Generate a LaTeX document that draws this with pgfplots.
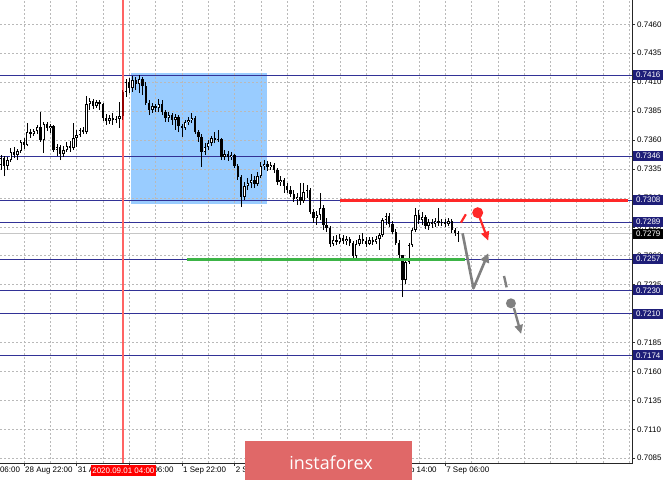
\documentclass[border=0pt]{standalone}
\usepackage{pgfplots}
\pgfplotsset{compat=1.18}
\usepackage{pgfplotstable}
\usepackage{fontspec}
\setmainfont{Liberation Sans}
\newfontfamily\bannerfont{Open Sans}
\usetikzlibrary{arrows.meta}

\definecolor{lvl}{RGB}{50,50,150}
\definecolor{lvlbox}{RGB}{30,30,120}
\definecolor{zone}{RGB}{153,204,255}
\definecolor{selred}{RGB}{255,100,100}
\definecolor{darkbar}{RGB}{150,0,0}
\definecolor{tgtred}{RGB}{255,40,40}
\definecolor{tgtgreen}{RGB}{60,180,70}
\definecolor{arrowgray}{RGB}{128,128,128}
\definecolor{banner}{RGB}{224,104,104}

% H1 bars, t = 0 is 28 Aug 22:00
\pgfplotstableread{
t o h l c
-7 0.73384 0.73471 0.73341 0.73445
-6 0.73445 0.73462 0.73289 0.73376
-5 0.73376 0.73453 0.73341 0.73427
-4 0.73427 0.73531 0.73410 0.73497
-3 0.73497 0.73540 0.73445 0.73471
-2 0.73471 0.73522 0.73427 0.73505
-1 0.73505 0.73600 0.73488 0.73583
0 0.73583 0.73618 0.73522 0.73557
1 0.73557 0.73747 0.73548 0.73669
2 0.73669 0.73695 0.73618 0.73652
3 0.73652 0.73695 0.73635 0.73678
4 0.73678 0.73730 0.73652 0.73713
5 0.73713 0.73842 0.73583 0.73600
6 0.73600 0.73756 0.73488 0.73739
7 0.73739 0.73756 0.73678 0.73704
8 0.73704 0.73739 0.73661 0.73721
9 0.73721 0.73730 0.73497 0.73514
10 0.73514 0.73566 0.73462 0.73540
11 0.73540 0.73557 0.73427 0.73479
12 0.73479 0.73548 0.73453 0.73514
13 0.73514 0.73583 0.73497 0.73548
14 0.73548 0.73592 0.73497 0.73531
15 0.73531 0.73747 0.73514 0.73618
16 0.73618 0.73687 0.73540 0.73643
17 0.73643 0.73704 0.73626 0.73687
18 0.73687 0.73713 0.73652 0.73669
19 0.73669 0.73981 0.73652 0.73911
20 0.73911 0.73963 0.73860 0.73937
21 0.73937 0.73955 0.73868 0.73894
22 0.73894 0.73946 0.73877 0.73929
23 0.73929 0.73946 0.73860 0.73911
24 0.73911 0.73920 0.73764 0.73790
25 0.73790 0.73825 0.73730 0.73764
26 0.73764 0.73816 0.73739 0.73790
27 0.73790 0.73834 0.73730 0.73773
28 0.73773 0.73808 0.73747 0.73782
29 0.73782 0.73929 0.73704 0.73808
30 0.73808 0.74032 0.73773 0.74015
31 0.74015 0.74127 0.73972 0.74101
32 0.74101 0.74136 0.74006 0.74050
33 0.74050 0.74153 0.74015 0.74119
34 0.74119 0.74145 0.74032 0.74084
35 0.74084 0.74162 0.74006 0.74127
36 0.74127 0.74145 0.73989 0.74067
37 0.74067 0.74101 0.73903 0.73920
38 0.73920 0.73946 0.73816 0.73860
39 0.73860 0.73920 0.73834 0.73894
40 0.73894 0.73911 0.73842 0.73877
41 0.73877 0.73955 0.73842 0.73911
42 0.73911 0.73946 0.73816 0.73842
43 0.73842 0.73860 0.73756 0.73790
44 0.73790 0.73842 0.73756 0.73816
45 0.73816 0.73834 0.73730 0.73773
46 0.73773 0.73825 0.73687 0.73799
47 0.73799 0.73816 0.73669 0.73721
48 0.73721 0.73739 0.73626 0.73704
49 0.73704 0.73773 0.73687 0.73756
50 0.73756 0.73799 0.73730 0.73773
51 0.73773 0.73834 0.73747 0.73790
52 0.73790 0.73808 0.73652 0.73669
53 0.73669 0.73687 0.73583 0.73626
54 0.73626 0.73652 0.73367 0.73497
55 0.73497 0.73574 0.73471 0.73540
56 0.73540 0.73600 0.73514 0.73574
57 0.73574 0.73635 0.73548 0.73618
58 0.73618 0.73669 0.73574 0.73600
59 0.73600 0.73687 0.73583 0.73609
60 0.73609 0.73618 0.73427 0.73453
61 0.73453 0.73514 0.73427 0.73479
62 0.73479 0.73505 0.73419 0.73453
63 0.73453 0.73497 0.73427 0.73471
64 0.73471 0.73479 0.73358 0.73376
65 0.73376 0.73393 0.73255 0.73281
66 0.73281 0.73298 0.73021 0.73108
67 0.73108 0.73237 0.73082 0.73203
68 0.73203 0.73272 0.73168 0.73229
69 0.73229 0.73306 0.73185 0.73255
70 0.73255 0.73289 0.73185 0.73220
71 0.73220 0.73324 0.73203 0.73289
72 0.73289 0.73410 0.73272 0.73376
73 0.73376 0.73427 0.73341 0.73393
74 0.73393 0.73419 0.73332 0.73367
75 0.73367 0.73410 0.73341 0.73384
76 0.73384 0.73402 0.73315 0.73341
77 0.73341 0.73358 0.73211 0.73237
78 0.73237 0.73289 0.73203 0.73255
79 0.73255 0.73272 0.73142 0.73203
80 0.73203 0.73229 0.73142 0.73168
81 0.73168 0.73203 0.73108 0.73134
82 0.73134 0.73168 0.73065 0.73090
83 0.73090 0.73142 0.73039 0.73108
84 0.73108 0.73229 0.73039 0.73073
85 0.73073 0.73229 0.73056 0.73151
86 0.73151 0.73211 0.73099 0.73168
87 0.73168 0.73185 0.72961 0.72978
88 0.72978 0.73004 0.72883 0.72926
89 0.72926 0.72987 0.72866 0.72952
90 0.72952 0.73142 0.72909 0.73013
91 0.73013 0.73039 0.72823 0.72866
92 0.72866 0.72926 0.72805 0.72840
93 0.72840 0.72857 0.72676 0.72702
94 0.72702 0.72771 0.72684 0.72736
95 0.72736 0.72779 0.72693 0.72719
96 0.72719 0.72788 0.72702 0.72753
97 0.72753 0.72779 0.72702 0.72728
98 0.72728 0.72771 0.72693 0.72745
99 0.72745 0.72762 0.72684 0.72710
100 0.72710 0.72728 0.72563 0.72598
101 0.72598 0.72736 0.72581 0.72702
102 0.72702 0.72779 0.72684 0.72745
103 0.72745 0.72797 0.72702 0.72728
104 0.72728 0.72762 0.72676 0.72702
105 0.72702 0.72762 0.72693 0.72736
106 0.72736 0.72762 0.72693 0.72719
107 0.72719 0.72771 0.72702 0.72745
108 0.72745 0.72797 0.72650 0.72779
109 0.72779 0.72926 0.72762 0.72909
110 0.72909 0.72969 0.72866 0.72944
111 0.72944 0.72969 0.72849 0.72874
112 0.72874 0.72900 0.72788 0.72805
113 0.72805 0.72831 0.72693 0.72710
114 0.72710 0.72736 0.72581 0.72607
115 0.72607 0.72607 0.72243 0.72390
116 0.72390 0.72581 0.72356 0.72546
117 0.72546 0.72710 0.72529 0.72693
118 0.72693 0.72840 0.72676 0.72823
119 0.72823 0.73013 0.72805 0.72952
120 0.72952 0.72995 0.72874 0.72909
121 0.72909 0.72978 0.72866 0.72935
122 0.72935 0.72952 0.72831 0.72857
123 0.72857 0.72918 0.72823 0.72892
124 0.72892 0.72918 0.72840 0.72874
125 0.72874 0.72926 0.72849 0.72900
126 0.72900 0.73013 0.72857 0.72883
127 0.72883 0.72918 0.72857 0.72892
128 0.72892 0.72918 0.72849 0.72874
129 0.72874 0.72926 0.72857 0.72900
130 0.72900 0.72918 0.72797 0.72823
131 0.72823 0.72840 0.72771 0.72797
132 0.72797 0.72814 0.72719 0.72788
}\candles

\pgfplotsset{
  candlepart/.style={draw=none, mark=none, forget plot,
    error bars/.cd, y dir=plus, y explicit, error mark=none,
    error mark options={draw=none, fill=none}},
}

\begin{document}
\begin{tikzpicture}[font=\fontsize{8}{9}\selectfont,
  xlab/.style={anchor=west, yshift=-8bp, inner sep=1bp},
  lbox/.style={anchor=west, xshift=1bp, fill=lvlbox, text=white, minimum width=30bp, minimum height=10bp, inner sep=0pt}]
\begin{axis}[
  at={(0bp,17bp)}, anchor=south west,
  scale only axis, width=632bp, height=463bp,
  set layers,
  xmin=-7.295, xmax=184.8,
  ymin=0.70809, ymax=0.74810,
  clip=false,
  axis line style={draw=none},
  xtick={0,16,...,128}, xticklabels={},
  minor xtick={8,24,...,120,136,144,...,184},
  ytick={0.7085,0.7110,0.7135,0.7160,0.7185,0.7210,0.7235,0.7260,0.7285,0.7310,0.7335,0.7360,0.7385,0.7410,0.7435,0.7460},
  yticklabels={0.7085,0.7110,0.7135,0.7160,0.7185,0.7210,0.7235,0.7260,0.7285,0.7310,0.7335,0.7360,0.7385,0.7410,0.7435,0.7460},
  ytick pos=right, yticklabel pos=right, xtick pos=bottom,
  tick align=outside,
  major tick length=3bp, minor tick length=0pt,
  tick style={black!80, line width=0.6bp},
  grid=both,
  major grid style={gray!55, dash pattern=on 2bp off 2bp, line width=0.5bp},
  minor grid style={gray!55, dash pattern=on 2bp off 2bp, line width=0.5bp},
  yticklabel style={font=\fontsize{8}{9}\selectfont, inner xsep=2bp},
]
% zone rectangle under the grid
\begin{pgfonlayer}{axis background}
\fill[zone] (axis cs:32.4,0.73045) rectangle (axis cs:73.9,0.74182);
\end{pgfonlayer}

% current price line and levels
\addplot[draw=gray!45, line width=0.8bp, forget plot] coordinates {(-7.295,0.7279) (184.8,0.7279)};
\addplot[draw=lvl, line width=0.8bp, forget plot] coordinates {(-7.295,0.7416) (184.8,0.7416)};
\addplot[draw=lvl, line width=0.8bp, forget plot] coordinates {(-7.295,0.7346) (184.8,0.7346)};
\addplot[draw=lvl, line width=0.8bp, forget plot] coordinates {(-7.295,0.7308) (184.8,0.7308)};
\addplot[draw=lvl, line width=0.8bp, forget plot] coordinates {(-7.295,0.7289) (184.8,0.7289)};
\addplot[draw=lvl, line width=0.8bp, forget plot] coordinates {(-7.295,0.7257) (184.8,0.7257)};
\addplot[draw=lvl, line width=0.8bp, forget plot] coordinates {(-7.295,0.7230) (184.8,0.7230)};
\addplot[draw=lvl, line width=0.8bp, forget plot] coordinates {(-7.295,0.7210) (184.8,0.7210)};
\addplot[draw=lvl, line width=0.8bp, forget plot] coordinates {(-7.295,0.7174) (184.8,0.7174)};

% vertical marker
\draw[selred, line width=2.2bp] (axis cs:30.2,0.70809) -- (axis cs:30.2,0.74810);

% candles: wicks, bodies, white inner of bull bodies
\addplot[candlepart, error bar style={draw=black, line width=0.8bp}]
  table[x=t, y=l, y error plus expr=\thisrow{h}-\thisrow{l}] {\candles};
\addplot[candlepart, error bar style={draw=black, line width=2.4bp, line cap=butt}]
  table[x=t, y expr={min(\thisrow{o},\thisrow{c})}, y error plus expr={abs(\thisrow{o}-\thisrow{c})}] {\candles};
\addplot[candlepart, error bar style={draw=white, line width=1.0bp, line cap=butt}]
  table[x=t, y expr={\thisrow{o}+0.00006}, y error plus expr={max(\thisrow{c}-\thisrow{o}-0.00012,0)}] {\candles};
% highlighted bar
\addplot[restrict x to domain=29.5:30.5, candlepart, error bar style={draw=darkbar, line width=0.8bp}]
  table[x=t, y=l, y error plus expr=\thisrow{h}-\thisrow{l}] {\candles};
\addplot[restrict x to domain=29.5:30.5, candlepart, error bar style={draw=darkbar, line width=2.4bp, line cap=butt}]
  table[x=t, y=o, y error plus expr=\thisrow{c}-\thisrow{o}] {\candles};

% target lines
\addplot[draw=tgtred, line width=3bp, forget plot] coordinates {(96,0.7308) (183.5,0.7308)};
\addplot[draw=tgtgreen, line width=3bp, forget plot] coordinates {(49.5,0.7257) (134.1,0.7257)};

% scenario arrows
\draw[tgtred, line width=2.2bp] (axis cs:132.8,0.72886) -- (axis cs:134.3,0.72958);
\fill[tgtred] (axis cs:137.9,0.72972) circle[radius=5.5bp];
\draw[tgtred, line width=2.2bp, -{Triangle[length=9bp,width=8bp]}] (axis cs:138.4,0.72938) -- (axis cs:141.1,0.72730);
\draw[arrowgray, line width=2.6bp, line join=round, -{Triangle[length=9bp,width=9bp]}] (axis cs:133.3,0.72794) -- (axis cs:136.6,0.72319) -- (axis cs:141.1,0.72621);
\draw[arrowgray, line width=2.4bp] (axis cs:145.9,0.72425) -- (axis cs:146.7,0.72327);
\fill[arrowgray] (axis cs:148.0,0.72189) circle[radius=5bp];
\draw[arrowgray, line width=2.4bp, -{Triangle[length=9bp,width=8bp]}] (axis cs:148.9,0.72149) -- (axis cs:151.1,0.71924);

% axis lines
\draw[black!85, line width=0.8bp] (rel axis cs:0,0) -- (rel axis cs:1,0) -- (rel axis cs:1,1);

% time labels
\node[xlab] at (axis cs:-16,0.70809) {28 Aug 06:00};
\node[xlab] at (axis cs:0,0.70809) {28 Aug 22:00};
\node[xlab] at (axis cs:16,0.70809) {31 Aug 14:00};
\node[xlab] at (axis cs:32,0.70809) {1 Sep 06:00};
\node[xlab] at (axis cs:48,0.70809) {1 Sep 22:00};
\node[xlab] at (axis cs:64,0.70809) {2 Sep 14:00};
\node[xlab] at (axis cs:80,0.70809) {3 Sep 06:00};
\node[xlab] at (axis cs:96,0.70809) {3 Sep 22:00};
\node[xlab] at (axis cs:112,0.70809) {4 Sep 14:00};
\node[xlab] at (axis cs:128,0.70809) {7 Sep 06:00};
\coordinate (dsel) at (axis cs:30.2,0.70809);

\coordinate (q7416) at (axis cs:184.8,0.7416);
\coordinate (q7346) at (axis cs:184.8,0.7346);
\coordinate (q7308) at (axis cs:184.8,0.7308);
\coordinate (q7289) at (axis cs:184.8,0.7289);
\coordinate (q7279) at (axis cs:184.8,0.7279);
\coordinate (q7257) at (axis cs:184.8,0.7257);
\coordinate (q7230) at (axis cs:184.8,0.7230);
\coordinate (q7210) at (axis cs:184.8,0.7210);
\coordinate (q7174) at (axis cs:184.8,0.7174);
\end{axis}

\node[fill=red, text=white, inner xsep=1.5bp, inner ysep=0pt, minimum height=11bp, yshift=-8bp] at (dsel) {2020.09.01 04:00};

\node[lbox] at (q7416) {0.7416};
\node[lbox] at (q7346) {0.7346};
\node[lbox] at (q7308) {0.7308};
\node[lbox] at (q7289) {0.7289};
\node[lbox, fill=black] at (q7279) {0.7279};
\node[lbox] at (q7257) {0.7257};
\node[lbox] at (q7230) {0.7230};
\node[lbox] at (q7210) {0.7210};
\node[lbox] at (q7174) {0.7174};

% watermark banner
\fill[banner] (245bp,0bp) rectangle (412bp,39bp);
\node[text=white, font=\bannerfont\fontsize{18}{20}\selectfont] at (331bp,17bp) {instaforex};

\pgfresetboundingbox
\useasboundingbox (0,0) rectangle (665bp,480bp);
\end{tikzpicture}
\end{document}
